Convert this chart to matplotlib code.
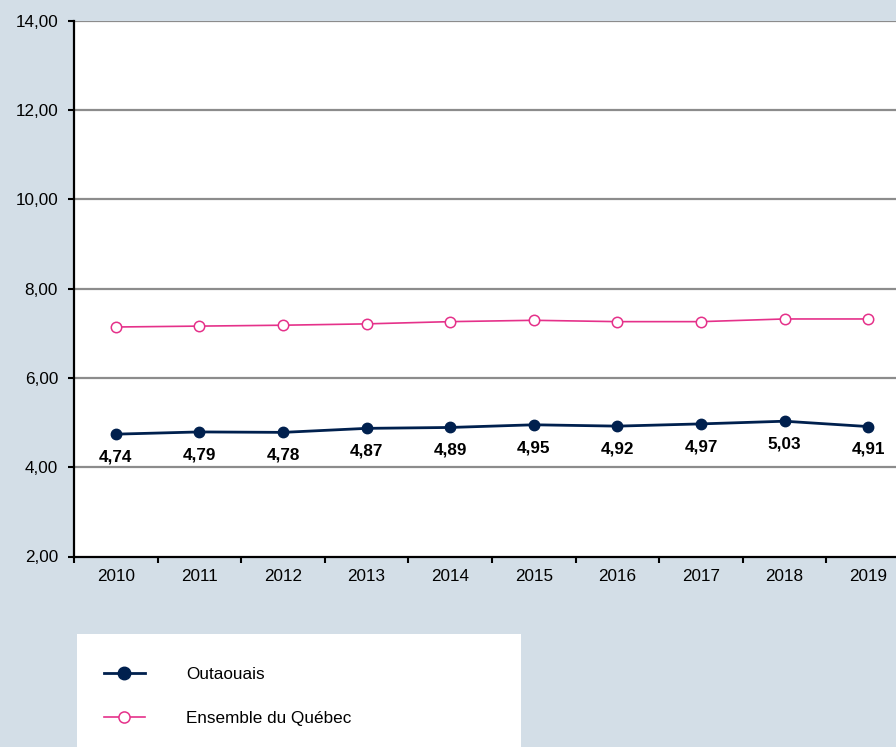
import matplotlib.pyplot as plt
from matplotlib.patches import Rectangle
from matplotlib.lines import Line2D
from matplotlib.ticker import FuncFormatter, FixedLocator

plt.rcParams['font.family'] = ['Liberation Sans', 'DejaVu Sans']

annees = ['2010', '2011', '2012', '2013', '2014', '2015', '2016', '2017', '2018', '2019']
outaouais = [4.74, 4.79, 4.78, 4.87, 4.89, 4.95, 4.92, 4.97, 5.03, 4.91]
quebec = [7.14, 7.16, 7.18, 7.21, 7.26, 7.29, 7.26, 7.26, 7.32, 7.32]
etiquettes = ['4,74', '4,79', '4,78', '4,87', '4,89', '4,95', '4,92', '4,97', '5,03', '4,91']

fond = '#d3dee7'
bleu = '#00204e'
rose = '#e5318a'

fig = plt.figure(figsize=(8.96, 7.47), dpi=100, facecolor=fond)
W, H = 896, 747

# zone du graphique (deborde a droite, comme l'original)
ax = fig.add_axes([74 / W, 1 - 556.5 / H, 836 / W, 535.8 / H])
ax.set_facecolor('white')

x = list(range(len(annees)))
ax.plot(x, quebec, color=rose, lw=1.2, marker='o', ms=7.5,
        mfc='white', mec=rose, mew=1.1, zorder=3)
ax.plot(x, outaouais, color=bleu, lw=2.0, marker='o', ms=7.5,
        mfc=bleu, mec=bleu, zorder=4)

for xi, yi, txt in zip(x, outaouais, etiquettes):
    ax.annotate(txt, (xi, yi), xytext=(0, -16.5), textcoords='offset points',
                ha='center', va='center', fontsize=12.3, fontweight='bold',
                color='black')

ax.set_xlim(-0.5, len(annees) - 0.5)
ax.set_ylim(2, 14)
ax.set_yticks([2, 4, 6, 8, 10, 12, 14])
ax.yaxis.set_major_formatter(FuncFormatter(lambda v, p: ('%.2f' % v).replace('.', ',')))

# grille horizontale
for v in [4, 6, 8, 10, 12, 14]:
    ax.axhline(v, color='#8c8c8c', lw=1.6, zorder=1)

ax.set_xticks(x)
ax.set_xticklabels(annees)
ax.xaxis.set_minor_locator(FixedLocator([i - 0.5 for i in range(len(annees) + 1)]))
ax.tick_params(axis='x', which='major', length=0, pad=9, labelsize=12.3)
ax.tick_params(axis='x', which='minor', length=4, width=1.5, direction='out')
ax.tick_params(axis='y', length=4, width=1.5, pad=7.5, labelsize=12.3)

for s in ['top', 'right']:
    ax.spines[s].set_visible(False)
for s in ['left', 'bottom']:
    ax.spines[s].set_color('black')
    ax.spines[s].set_linewidth(1.6)

# cadre de la legende
fig.patches.append(Rectangle((77 / W, 0), (521 - 77) / W, (747 - 634) / H,
                             transform=fig.transFigure, facecolor='white',
                             edgecolor='none', zorder=0))

poignees = [
    Line2D([], [], color=bleu, lw=2.0, marker='o', ms=9, mfc=bleu, mec=bleu),
    Line2D([], [], color=rose, lw=1.2, marker='o', ms=8, mfc='white', mec=rose, mew=1.1),
]
fig.legend(poignees, ['Outaouais', 'Ensemble du Québec'],
           loc='upper left', bbox_to_anchor=(95 / W, 1 - 658 / H),
           frameon=False, fontsize=12.3, handlelength=2.4,
           handletextpad=2.45, labelspacing=1.75, borderpad=0)

fig.savefig('out.png', dpi=100, facecolor=fond)
